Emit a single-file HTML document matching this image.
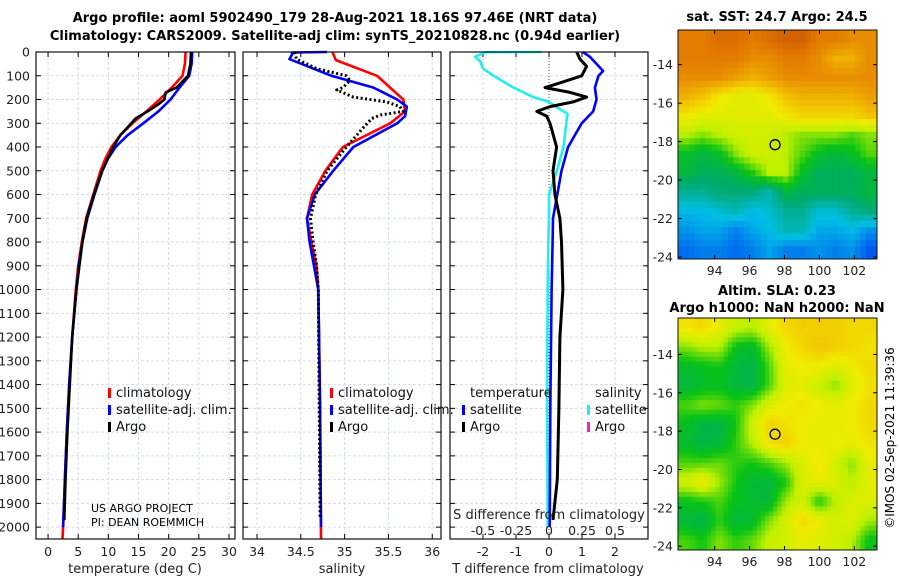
<!DOCTYPE html>
<html><head><meta charset="utf-8"><style>
html,body{margin:0;padding:0;background:#fff;}
svg{display:block;font-family:"DejaVu Sans","Liberation Sans",sans-serif;}
</style></head><body>
<svg id="chart" width="900" height="580" viewBox="0 0 900 580" xmlns="http://www.w3.org/2000/svg">
<text x="335" y="22" text-anchor="middle" font-size="13" font-weight="bold">Argo profile: aoml 5902490_179 28-Aug-2021 18.16S 97.46E (NRT data)</text>
<text x="335" y="40" text-anchor="middle" font-size="13" font-weight="bold">Climatology: CARS2009. Satellite-adj clim: synTS_20210828.nc (0.94d earlier)</text>
<text x="777" y="21" text-anchor="middle" font-size="13" font-weight="bold">sat. SST: 24.7 Argo: 24.5</text>
<text x="777" y="295" text-anchor="middle" font-size="13" font-weight="bold">Altim. SLA: 0.23</text>
<text x="777" y="312" text-anchor="middle" font-size="13" font-weight="bold">Argo h1000: NaN h2000: NaN</text>
<text transform="translate(894,438) rotate(-90)" text-anchor="middle" font-size="12">©IMOS 02-Sep-2021 11:39:36</text>
<text x="91" y="512" font-size="11">US ARGO PROJECT</text>
<text x="91" y="526" font-size="11">PI: DEAN ROEMMICH</text>
</svg>
<script>
// ---- data ----
const tClimDepth = [0,50,100,150,200,250,300,350,400,450,500,600,700,800,900,1000,1200,1400,1600,1800,2000,2050];
const tClim      = [22.8,22.7,22.3,20.5,18.5,16.3,14.0,12.0,10.5,9.5,8.7,7.5,6.3,5.6,5.0,4.6,4.0,3.5,3.1,2.8,2.5,2.4];
const tSatDepth  = [0,50,100,150,200,250,300,350,400,450,500,600,700,800,900,1000,1200,1400,1600,1800,2000];
const tSat       = [23.9,23.8,23.4,21.8,20.3,18.3,15.8,13.2,11.2,9.9,9.0,7.7,6.5,5.7,5.1,4.7,4.0,3.5,3.1,2.8,2.5];
const tArgoDepth = [0,50,100,150,170,200,220,250,280,300,350,400,500,600,700,800,1000,1200,1400,1600,1800,1970];
const tArgo      = [23.7,23.6,23.2,21.3,19.5,19.3,18.3,16.5,14.5,13.8,12.0,10.8,9.0,7.6,6.4,5.7,4.7,4.0,3.6,3.2,2.9,2.7];

const sClimDepth = [0,34,100,200,250,300,400,500,600,650,700,800,900,1000,1500,2050];
const sClim      = [34.86,34.9,35.37,35.67,35.69,35.52,34.98,34.78,34.63,34.6,34.57,34.62,34.68,34.70,34.72,34.73];
const sSatDepth  = [0,2,10,30,50,100,150,200,230,270,300,400,500,600,700,800,1000,1500,2000];
const sSat       = [34.8,34.4,34.4,34.37,34.51,34.85,35.33,35.6,35.71,35.69,35.6,35.1,34.87,34.66,34.57,34.6,34.70,34.72,34.73];
const sArgoDepth = [1,30,70,100,120,150,160,190,210,230,250,265,280,320,400,500,600,700,800,900,1000,1960];
const sArgo      = [34.43,34.45,34.68,35.02,35.06,34.98,34.91,35.1,35.48,35.63,35.67,35.41,35.31,35.21,35.02,34.8,34.67,34.61,34.64,34.68,34.70,34.72];

const dSDepth  = [0,1,20,40,70,100,150,190,210,240,260,300,400,500,600,700,800,1000,1400,2000];
const dSSat    = [-0.055,-0.48,-0.56,-0.52,-0.5,-0.42,-0.27,-0.12,0.0,0.08,0.14,0.13,0.11,0.06,0.0,0.0,-0.005,-0.01,-0.015,-0.01];
const dTSatDepth = [0,20,50,80,100,150,200,250,300,400,500,600,700,800,1000,1500,2000];
const dTSat      = [1.03,1.24,1.44,1.64,1.5,1.39,1.44,1.34,0.99,0.58,0.38,0.25,0.12,0.11,0.08,0.04,0.02];
const dTArgoDepth = [0,30,60,100,130,150,170,190,210,230,250,270,300,400,500,600,700,800,1000,1200,1500,1800,1970];
const dTArgo      = [0.84,0.94,1.14,0.99,0.33,-0.12,0.64,1.14,0.73,0.03,-0.37,-0.07,0.03,0.23,0.12,0.18,0.33,0.38,0.42,0.33,0.3,0.25,0.12];

const depthTicks = [0,100,200,300,400,500,600,700,800,900,1000,1100,1200,1300,1400,1500,1600,1700,1800,1900,2000];
const tempTicks = [0,5,10,15,20,25,30];
const salTicks = [34,34.5,35,35.5,36];
const salTickLabels = ['34','34.5','35','35.5','36'];
const dTTicks = [-2,-1,0,1,2];
const dSTicks = [-0.5,-0.25,0,0.25,0.5];
const dSTickLabels = ['-0.5','-0.25','0','0.25','0.5'];

const lonTicks = [94,96,98,100,102];
const latTicks = [-14,-16,-18,-20,-22,-24];
const sstGrid = [
[25.6,25.6,25.7,25.7,25.6,25.7,25.8,25.8,25.6,25.6,25.5,25.5],
[25.6,25.6,25.6,25.6,25.5,25.5,25.6,25.6,25.5,25.3,25.3,25.5],
[25.5,25.5,25.5,25.4,25.3,25.4,25.5,25.5,25.5,25.5,25.5,25.5],
[25.3,25.2,25.0,24.9,24.9,25.0,25.2,25.3,25.3,25.3,25.3,25.4],
[25.0,24.9,24.9,24.9,24.9,24.9,25.0,25.1,25.1,25.1,25.1,25.2],
[24.7,24.6,24.7,24.8,24.8,24.8,24.7,24.6,24.6,24.6,24.5,24.6],
[24.3,24.2,24.3,24.6,24.8,24.8,24.7,24.5,24.3,24.2,24.3,24.5],
[24.2,24.1,24.1,24.2,24.4,24.7,24.7,24.3,24.1,24.1,24.1,24.2],
[23.9,23.9,24.0,24.0,24.0,23.8,24.2,24.1,24.1,24.1,24.1,24.2],
[23.6,23.6,23.7,23.8,23.6,23.7,23.9,23.9,23.7,23.7,23.9,24.0],
[23.4,23.5,23.5,23.3,23.5,23.6,23.8,23.8,23.5,23.5,23.6,23.4],
[23.2,23.3,23.3,23.2,23.3,23.5,23.3,23.3,23.4,23.3,23.4,23.1]];
const slaGrid = [
[0.20,0.21,0.18,0.15,0.14,0.18,0.21,0.22,0.22,0.22,0.21,0.21],
[0.12,0.14,0.14,0.07,0.06,0.13,0.19,0.21,0.23,0.22,0.21,0.20],
[0.06,0.07,0.08,0.05,0.04,0.10,0.18,0.19,0.19,0.17,0.19,0.21],
[0.05,0.06,0.07,0.05,0.04,0.10,0.17,0.18,0.15,0.12,0.17,0.20],
[0.10,0.12,0.11,0.09,0.12,0.17,0.19,0.20,0.19,0.18,0.19,0.21],
[0.07,0.04,0.04,0.08,0.16,0.22,0.20,0.19,0.18,0.18,0.19,0.21],
[0.06,0.04,0.05,0.09,0.14,0.20,0.22,0.19,0.18,0.19,0.18,0.20],
[0.10,0.10,0.11,0.09,0.08,0.10,0.13,0.17,0.20,0.16,0.12,0.18],
[0.16,0.19,0.13,0.08,0.05,0.05,0.08,0.17,0.18,0.17,0.14,0.18],
[0.07,0.08,0.10,0.07,0.06,0.05,0.13,0.16,0.08,0.14,0.17,0.17],
[0.05,0.04,0.09,0.05,0.06,0.12,0.16,0.21,0.19,0.16,0.17,0.13],
[0.10,0.08,0.12,0.09,0.11,0.15,0.16,0.18,0.17,0.16,0.14,0.07]];
const floatLon = 97.46;
const floatLat = -18.16;

// ---- drawing ----
const svg = document.getElementById('chart');
const NS = 'http://www.w3.org/2000/svg';
function mk(tag, attrs){ const e=document.createElementNS(NS,tag); for(const k in attrs) e.setAttribute(k,attrs[k]); return e; }
function lin(d0,d1,r0,r1){ return v => r0 + (v-d0)/(d1-d0)*(r1-r0); }
const Y0=52, Y1=539;
const yD = lin(0,2050,Y0,Y1);

const panels = [
 {name:'temperature', x0:36, x1:235, sx:lin(-2,31,36,235), ticks:tempTicks, labels:tempTicks.map(String), xlabel:'temperature (deg C)', lx:135},
 {name:'salinity', x0:243, x1:441, sx:lin(33.84,36.1,243,441), ticks:salTicks, labels:salTickLabels, xlabel:'salinity', lx:342},
 {name:'difference', x0:450, x1:648, sx:lin(-3,3,450,648), ticks:dTTicks, labels:dTTicks.map(String), xlabel:'T difference from climatology', lx:548}
];
const sxS = lin(-0.75,0.75,450,648);
const GRID = '#d6daee';

panels.forEach((p,pi)=>{
  const g = mk('g',{});
  
  
  svg.appendChild(g);
  depthTicks.forEach(d=>{
    const l = mk('line',{x1:p.x0,x2:p.x1,y1:yD(d),y2:yD(d),stroke:GRID,'stroke-width':1,'stroke-dasharray':'3,2'});
    
    
    g.appendChild(l);
    [[p.x0,p.x0+5],[p.x1-5,p.x1]].forEach(([a,b])=>{
      const t = mk('line',{x1:a,x2:b,y1:yD(d),y2:yD(d),stroke:'#000','stroke-width':1});
      
      
      g.appendChild(t);
    });
    if(pi===0){
      const tx = mk('text',{x:30,y:yD(d)+4.5,'text-anchor':'end','font-size':12.5,fill:'#222'});
      tx.textContent = d;
      
      
      g.appendChild(tx);
    }
  });
  p.ticks.forEach((v,i)=>{
    const x = p.sx(v);
    const zero = (pi===2&&v===0);
    const l = mk('line',{x1:x,x2:x,y1:Y0,y2:Y1,stroke:zero?'#444':GRID,'stroke-width':1,'stroke-dasharray':zero?'1,2':'3,2'});
    
    
    g.appendChild(l);
    [[Y0,Y0+5],[Y1-5,Y1]].forEach(([a,b])=>{
      const t = mk('line',{x1:x,x2:x,y1:a,y2:b,stroke:'#000','stroke-width':1});
      
      
      g.appendChild(t);
    });
    const tx = mk('text',{x:x,y:556,'text-anchor':'middle','font-size':12.5,fill:'#222'});
    tx.textContent = p.labels[i];
    
    
    g.appendChild(tx);
  });
  const xl = mk('text',{x:p.lx,y:573,'text-anchor':'middle','font-size':13,fill:'#222'});
  xl.textContent = p.xlabel;
  
  
  g.appendChild(xl);
  p.g = g;
});

function drawLine(g, xs, ds, sx, color, name, dash, w){
  const pts = xs.map((v,i)=>sx(v).toFixed(1)+','+yD(ds[i]).toFixed(1)).join(' ');
  const a = {points:pts,fill:'none',stroke:color,'stroke-width':w||2.6,'stroke-linejoin':'round'};
  if(dash) a['stroke-dasharray']=dash;
  const pl = mk('polyline',a);
  
  
  g.appendChild(pl);
}
const P = panels;
drawLine(P[0].g, tClim, tClimDepth, P[0].sx, '#ff0000', 'temp-climatology-line');
drawLine(P[0].g, tSat, tSatDepth, P[0].sx, '#0000ff', 'temp-satellite-line');
drawLine(P[0].g, tArgo, tArgoDepth, P[0].sx, '#000000', 'temp-argo-line');
drawLine(P[1].g, sClim, sClimDepth, P[1].sx, '#ff0000', 'sal-climatology-line');
drawLine(P[1].g, sSat, sSatDepth, P[1].sx, '#0000ff', 'sal-satellite-line');
drawLine(P[1].g, sArgo, sArgoDepth, P[1].sx, '#000000', 'sal-argo-line', '2,2.5', 3);
drawLine(P[2].g, dSSat, dSDepth, sxS, '#22eeee', 'sal-diff-satellite-line');
drawLine(P[2].g, dTSat, dTSatDepth, P[2].sx, '#0000ff', 'temp-diff-satellite-line');
drawLine(P[2].g, dTArgo, dTArgoDepth, P[2].sx, '#000000', 'temp-diff-argo-line', null, 3);

const sTitle = mk('text',{x:549,y:519,'text-anchor':'middle','font-size':13,fill:'#222'});
sTitle.textContent = 'S difference from climatology';


svg.appendChild(sTitle);
dSTicks.forEach((v,i)=>{
  const t = mk('text',{x:sxS(v),y:535,'text-anchor':'middle','font-size':12.5,fill:'#222'});
  t.textContent = dSTickLabels[i];
  
  
  svg.appendChild(t);
});

panels.forEach(p=>{
  const r = mk('rect',{x:p.x0,y:Y0,width:p.x1-p.x0,height:Y1-Y0,fill:'none',stroke:'#111','stroke-width':1.2});
  
  
  svg.appendChild(r);
});

function legendItem(x,y,color,label,name){
  const m = mk('rect',{x:x,y:y-9,width:3,height:10,fill:color});
  
  
  svg.appendChild(m);
  const t = mk('text',{x:x+8,y:y,'font-size':13,fill:'#111'});
  t.textContent = label;
  
  
  svg.appendChild(t);
}
legendItem(108,397,'#ff0000','climatology','legend-climatology');
legendItem(108,414,'#0000ff','satellite-adj. clim.','legend-satellite');
legendItem(108,431,'#000000','Argo','legend-argo');
legendItem(330,397,'#ff0000','climatology','legend-sal-climatology');
legendItem(330,414,'#0000ff','satellite-adj. clim.','legend-sal-satellite');
legendItem(330,431,'#000000','Argo','legend-sal-argo');
const lt = mk('text',{x:470,y:397,'font-size':13,fill:'#111'}); lt.textContent='temperature';


svg.appendChild(lt);
const ls = mk('text',{x:595,y:397,'font-size':13,fill:'#111'}); ls.textContent='salinity';


svg.appendChild(ls);
legendItem(462,414,'#0000ff','satellite','legend-dt-satellite');
legendItem(462,431,'#000000','Argo','legend-dt-argo');
legendItem(587,414,'#22eeee','satellite','legend-ds-satellite');
legendItem(587,431,'#ee22cc','Argo','legend-ds-argo');

// maps
const stops = [[0,[0,20,160]],[0.15,[0,90,240]],[0.3,[0,190,230]],[0.42,[0,170,110]],[0.52,[10,195,20]],[0.62,[190,240,0]],[0.7,[240,235,0]],[0.78,[242,185,0]],[0.88,[228,125,0]],[1,[195,70,0]]];
function cmap(v){
  v=Math.max(0,Math.min(1,v));
  for(let i=1;i<stops.length;i++){
    if(v<=stops[i][0]){
      const [a,ca]=stops[i-1],[b,cb]=stops[i]; const f=(v-a)/(b-a);
      return 'rgb('+ca.map((c,k)=>Math.round(c+(cb[k]-c)*f)).join(',')+')';
    }
  }
  return 'rgb(195,70,0)';
}
function sample(grid, fr, fc){
  const nr=grid.length, nc=grid[0].length;
  fr=Math.max(0,Math.min(nr-1,fr)); fc=Math.max(0,Math.min(nc-1,fc));
  const r0=Math.floor(fr), c0=Math.floor(fc), r1=Math.min(nr-1,r0+1), c1=Math.min(nc-1,c0+1);
  const a=fr-r0, b=fc-c0;
  return grid[r0][c0]*(1-a)*(1-b)+grid[r0][c1]*(1-a)*b+grid[r1][c0]*a*(1-b)+grid[r1][c1]*a*b;
}
function drawMap(name, top, bottom, latTop, latBot, grid, norm, sub){
  const L=678, R=877, lonL=91.9, lonR=103.3;
  const sx = lin(lonL,lonR,L,R), sy = lin(latTop,latBot,top,bottom);
  const g = mk('g',{});
  
  
  svg.appendChild(g);
  const nr=grid.length*sub, nc=grid[0].length*sub;
  const cw=(R-L)/nc, ch=(bottom-top)/nr;
  for(let ri=0;ri<nr;ri++) for(let ci=0;ci<nc;ci++){
    const v = sample(grid,(ri+0.5)/sub-0.5,(ci+0.5)/sub-0.5);
    const c = mk('rect',{x:(L+ci*cw).toFixed(2),y:(top+ri*ch).toFixed(2),width:(cw+0.5).toFixed(2),height:(ch+0.5).toFixed(2),fill:cmap(norm(v))});
    
    
    g.appendChild(c);
  }
  const fr = mk('rect',{x:L,y:top,width:R-L,height:bottom-top,fill:'none',stroke:'#111','stroke-width':1});
  
  
  g.appendChild(fr);
  lonTicks.forEach(v=>{
    const x=sx(v);
    [[top,top+4],[bottom-4,bottom]].forEach(([a,b])=>{
      const t=mk('line',{x1:x,x2:x,y1:a,y2:b,stroke:'#000'});
      
      
      g.appendChild(t);
    });
    const tx=mk('text',{x:x,y:bottom+16,'text-anchor':'middle','font-size':12.5,fill:'#222'});
    tx.textContent=v;
    
    
    g.appendChild(tx);
  });
  latTicks.forEach(v=>{
    const y=sy(v);
    [[L,L+4],[R-4,R]].forEach(([a,b])=>{
      const t=mk('line',{x1:a,x2:b,y1:y,y2:y,stroke:'#000'});
      
      
      g.appendChild(t);
    });
    const tx=mk('text',{x:L-5,y:y+4.5,'text-anchor':'end','font-size':12.5,fill:'#222'});
    tx.textContent=v;
    
    
    g.appendChild(tx);
  });
  const c = mk('circle',{cx:sx(floatLon),cy:sy(floatLat),r:5,fill:'none',stroke:'#000','stroke-width':1.3});
  
  
  g.appendChild(c);
}
drawMap('sst-map',30,259,-12.2,-24.1,sstGrid,v=>(v-22.6)/3.4,3);
drawMap('sla-map',318,550,-12.1,-24.2,slaGrid,v=>(v+0.25)/0.63,4);
</script>
</body></html>
